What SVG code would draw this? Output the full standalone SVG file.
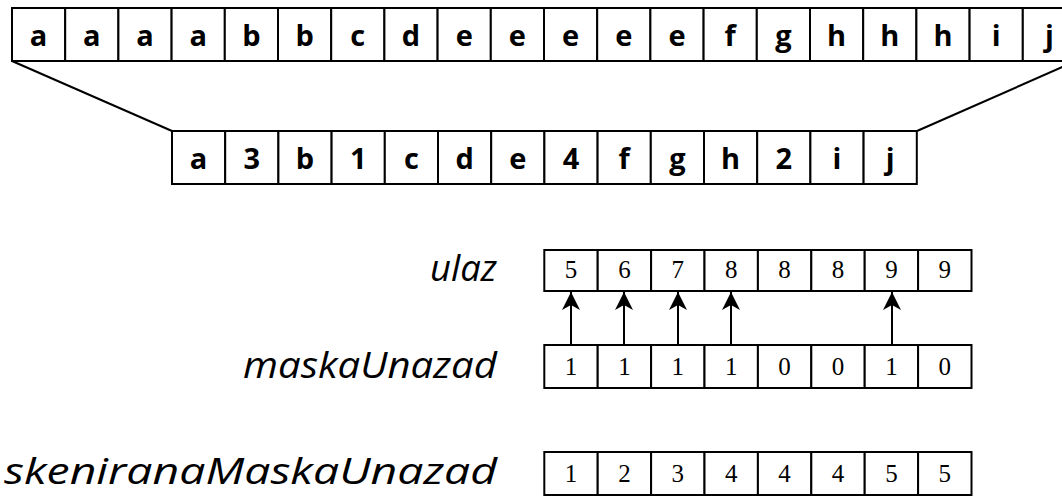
<svg xmlns="http://www.w3.org/2000/svg" width="1062" height="500" viewBox="0 0 1062 500">
<defs>
<style>
.cell{fill:#fff;stroke:#000;stroke-width:2}
.bt{font-family:"Open Sans","Liberation Sans",sans-serif;font-weight:bold;font-size:29px;text-anchor:middle;fill:#000}
.num{font-family:"Liberation Serif",serif;font-size:25px;text-anchor:middle;fill:#000}
.lbl{font-family:"Open Sans","Liberation Sans",sans-serif;font-style:italic;font-size:36px;fill:#000}
.con{stroke:#000;stroke-width:2;fill:none}
</style>
<marker id="ah" markerWidth="18" markerHeight="18" refX="18" refY="9" orient="auto" markerUnits="userSpaceOnUse" viewBox="0 0 18 18">
<path d="M0,0 L18,9 L0,18 L5,9 Z" fill="#000"/>
</marker>
</defs>
<rect width="1062" height="500" fill="#fff"/>
<g id="connectors">
<line class="con" x1="12" y1="61" x2="172" y2="131"/>
<line class="con" x1="1076" y1="61" x2="917" y2="131"/>
<line class="con" x1="571" y1="345" x2="571" y2="292" marker-end="url(#ah)"/>
<line class="con" x1="624" y1="345" x2="624" y2="292" marker-end="url(#ah)"/>
<line class="con" x1="678" y1="345" x2="678" y2="292" marker-end="url(#ah)"/>
<line class="con" x1="731" y1="345" x2="731" y2="292" marker-end="url(#ah)"/>
<line class="con" x1="892" y1="345" x2="892" y2="292" marker-end="url(#ah)"/>
</g>
<g id="input-row">
<rect class="cell" x="12" y="8" width="53.2" height="53"/>
<rect class="cell" x="65.2" y="8" width="53.2" height="53"/>
<rect class="cell" x="118.4" y="8" width="53.2" height="53"/>
<rect class="cell" x="171.6" y="8" width="53.2" height="53"/>
<rect class="cell" x="224.8" y="8" width="53.2" height="53"/>
<rect class="cell" x="278" y="8" width="53.2" height="53"/>
<rect class="cell" x="331.2" y="8" width="53.2" height="53"/>
<rect class="cell" x="384.4" y="8" width="53.2" height="53"/>
<rect class="cell" x="437.6" y="8" width="53.2" height="53"/>
<rect class="cell" x="490.8" y="8" width="53.2" height="53"/>
<rect class="cell" x="544" y="8" width="53.2" height="53"/>
<rect class="cell" x="597.2" y="8" width="53.2" height="53"/>
<rect class="cell" x="650.4" y="8" width="53.2" height="53"/>
<rect class="cell" x="703.6" y="8" width="53.2" height="53"/>
<rect class="cell" x="756.8" y="8" width="53.2" height="53"/>
<rect class="cell" x="810" y="8" width="53.2" height="53"/>
<rect class="cell" x="863.2" y="8" width="53.2" height="53"/>
<rect class="cell" x="916.4" y="8" width="53.2" height="53"/>
<rect class="cell" x="969.6" y="8" width="53.2" height="53"/>
<rect class="cell" x="1022.8" y="8" width="53.2" height="53"/>
<text class="bt" y="46"><tspan x="38.6">a</tspan><tspan x="91.8">a</tspan><tspan x="145">a</tspan><tspan x="198.2">a</tspan><tspan x="251.4">b</tspan><tspan x="304.6">b</tspan><tspan x="357.8">c</tspan><tspan x="411">d</tspan><tspan x="464.2">e</tspan><tspan x="517.4">e</tspan><tspan x="570.6">e</tspan><tspan x="623.8">e</tspan><tspan x="677">e</tspan><tspan x="730.2">f</tspan><tspan x="783.4">g</tspan><tspan x="836.6">h</tspan><tspan x="889.8">h</tspan><tspan x="943">h</tspan><tspan x="996.2">i</tspan><tspan x="1049.4">j</tspan></text>
</g>
<g id="compressed-row">
<rect class="cell" x="172" y="131" width="53.2" height="53"/>
<rect class="cell" x="225.2" y="131" width="53.2" height="53"/>
<rect class="cell" x="278.4" y="131" width="53.2" height="53"/>
<rect class="cell" x="331.6" y="131" width="53.2" height="53"/>
<rect class="cell" x="384.8" y="131" width="53.2" height="53"/>
<rect class="cell" x="438" y="131" width="53.2" height="53"/>
<rect class="cell" x="491.2" y="131" width="53.2" height="53"/>
<rect class="cell" x="544.4" y="131" width="53.2" height="53"/>
<rect class="cell" x="597.6" y="131" width="53.2" height="53"/>
<rect class="cell" x="650.8" y="131" width="53.2" height="53"/>
<rect class="cell" x="704" y="131" width="53.2" height="53"/>
<rect class="cell" x="757.2" y="131" width="53.2" height="53"/>
<rect class="cell" x="810.4" y="131" width="53.2" height="53"/>
<rect class="cell" x="863.6" y="131" width="53.2" height="53"/>
<text class="bt" y="169"><tspan x="198.6">a</tspan><tspan x="251.8">3</tspan><tspan x="305">b</tspan><tspan x="358.2">1</tspan><tspan x="411.4">c</tspan><tspan x="464.6">d</tspan><tspan x="517.8">e</tspan><tspan x="571">4</tspan><tspan x="624.2">f</tspan><tspan x="677.4">g</tspan><tspan x="730.6">h</tspan><tspan x="783.8">2</tspan><tspan x="837">i</tspan><tspan x="890.2">j</tspan></text>
</g>
<g id="ulaz">
<text class="lbl" x="430" y="281" textLength="67" lengthAdjust="spacingAndGlyphs">ulaz</text>
<rect class="cell" x="544.3" y="250" width="53.4" height="41"/>
<rect class="cell" x="597.7" y="250" width="53.4" height="41"/>
<rect class="cell" x="651.1" y="250" width="53.4" height="41"/>
<rect class="cell" x="704.5" y="250" width="53.4" height="41"/>
<rect class="cell" x="757.9" y="250" width="53.4" height="41"/>
<rect class="cell" x="811.3" y="250" width="53.4" height="41"/>
<rect class="cell" x="864.7" y="250" width="53.4" height="41"/>
<rect class="cell" x="918.1" y="250" width="53.4" height="41"/>
<text class="num" y="278"><tspan x="571">5</tspan><tspan x="624.4">6</tspan><tspan x="677.8">7</tspan><tspan x="731.2">8</tspan><tspan x="784.6">8</tspan><tspan x="838">8</tspan><tspan x="891.4">9</tspan><tspan x="944.8">9</tspan></text>
</g>
<g id="maskaUnazad">
<text class="lbl" x="243" y="378" textLength="254" lengthAdjust="spacingAndGlyphs">maskaUnazad</text>
<rect class="cell" x="544.3" y="345" width="53.4" height="43"/>
<rect class="cell" x="597.7" y="345" width="53.4" height="43"/>
<rect class="cell" x="651.1" y="345" width="53.4" height="43"/>
<rect class="cell" x="704.5" y="345" width="53.4" height="43"/>
<rect class="cell" x="757.9" y="345" width="53.4" height="43"/>
<rect class="cell" x="811.3" y="345" width="53.4" height="43"/>
<rect class="cell" x="864.7" y="345" width="53.4" height="43"/>
<rect class="cell" x="918.1" y="345" width="53.4" height="43"/>
<text class="num" y="375"><tspan x="571">1</tspan><tspan x="624.4">1</tspan><tspan x="677.8">1</tspan><tspan x="731.2">1</tspan><tspan x="784.6">0</tspan><tspan x="838">0</tspan><tspan x="891.4">1</tspan><tspan x="944.8">0</tspan></text>
</g>
<g id="skeniranaMaskaUnazad">
<text class="lbl" x="4" y="484" textLength="493" lengthAdjust="spacingAndGlyphs">skeniranaMaskaUnazad</text>
<rect class="cell" x="544.3" y="452" width="53.4" height="43"/>
<rect class="cell" x="597.7" y="452" width="53.4" height="43"/>
<rect class="cell" x="651.1" y="452" width="53.4" height="43"/>
<rect class="cell" x="704.5" y="452" width="53.4" height="43"/>
<rect class="cell" x="757.9" y="452" width="53.4" height="43"/>
<rect class="cell" x="811.3" y="452" width="53.4" height="43"/>
<rect class="cell" x="864.7" y="452" width="53.4" height="43"/>
<rect class="cell" x="918.1" y="452" width="53.4" height="43"/>
<text class="num" y="482"><tspan x="571">1</tspan><tspan x="624.4">2</tspan><tspan x="677.8">3</tspan><tspan x="731.2">4</tspan><tspan x="784.6">4</tspan><tspan x="838">4</tspan><tspan x="891.4">5</tspan><tspan x="944.8">5</tspan></text>
</g>
</svg>
